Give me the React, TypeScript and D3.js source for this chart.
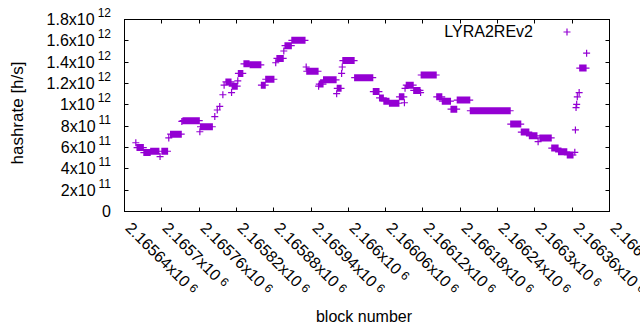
import * as d3 from "d3";

// runs of blocks that share one hashrate value (values in 10^12 h/s)
const runStart = [
  2165659, 2165661, 2165672, 2165683, 2165698, 2165701, 2165712, 2165715, 2165733, 2165735,
  2165762, 2165763, 2165786, 2165790, 2165794, 2165799, 2165801, 2165804, 2165813, 2165814,
  2165823, 2165824, 2165833, 2165843, 2165861, 2165868, 2165884, 2165886, 2165897, 2165899,
  2165910, 2165933, 2165934, 2165953, 2165954, 2165961, 2165982, 2165983, 2165990, 2165991,
  2165992, 2166011, 2166041, 2166051, 2166058, 2166067, 2166083, 2166091, 2166092, 2166094,
  2166106, 2166117, 2166118, 2166143, 2166152, 2166166, 2166176, 2166197, 2166262, 2166279,
  2166292, 2166306, 2166309, 2166328, 2166339, 2166353, 2166365, 2166366, 2166367, 2166368,
  2166369, 2166372, 2166373, 2166384,
];
const runEnd = [
  2165659, 2165671, 2165682, 2165696, 2165698, 2165710, 2165712, 2165732, 2165733, 2165761,
  2165762, 2165782, 2165786, 2165790, 2165794, 2165799, 2165801, 2165812, 2165813, 2165822,
  2165823, 2165831, 2165841, 2165860, 2165867, 2165881, 2165884, 2165896, 2165897, 2165909,
  2165931, 2165933, 2165952, 2165953, 2165960, 2165981, 2165982, 2165989, 2165990, 2165991,
  2166010, 2166040, 2166050, 2166057, 2166066, 2166082, 2166090, 2166091, 2166092, 2166105,
  2166116, 2166117, 2166142, 2166151, 2166165, 2166175, 2166196, 2166261, 2166278, 2166291,
  2166304, 2166306, 2166327, 2166338, 2166352, 2166362, 2166365, 2166366, 2166367, 2166368,
  2166369, 2166372, 2166383, 2166384,
];
const runHashrate = [
  0.64, 0.595, 0.548, 0.56, 0.51, 0.56, 0.685, 0.72, 0.84, 0.847,
  0.743, 0.79, 0.885, 0.947, 0.98, 1.09, 1.18, 1.21, 1.11, 1.17,
  1.22, 1.29, 1.38, 1.37, 1.18, 1.235, 1.39, 1.43, 1.5, 1.55,
  1.6, 1.35, 1.31, 1.17, 1.19, 1.23, 1.1, 1.15, 1.29, 1.35,
  1.41, 1.25, 1.12, 1.06, 1.03, 1.01, 1.07, 1.015, 1.15, 1.18,
  1.13, 1.11, 1.275, 1.07, 1.03, 0.955, 1.04, 0.94, 0.815, 0.74,
  0.705, 0.65, 0.685, 0.59, 0.555, 0.525, 0.55, 0.76, 0.97, 1.0,
  1.07, 1.11, 1.34, 1.48,
];

const yTicks = [0, 0.2e12, 0.4e12, 0.6e12, 0.8e12, 1e12, 1.2e12, 1.4e12, 1.6e12, 1.8e12];
const xTicks = [
  2165640, 2165700, 2165760, 2165820, 2165880, 2165940, 2166000,
  2166060, 2166120, 2166180, 2166240, 2166300, 2166360, 2166420,
];
const seriesName = "LYRA2REv2";

const W = 640;
const H = 330;
const margin = { top: 19, right: 31, bottom: 119, left: 124 };
const FONT = "'Liberation Sans', Arial, sans-serif";
const COLOR = "#9400d3";

// gnuplot style "m x10^e" split
const sci = (v: number): [string, string] => {
  if (v === 0) return ["0", ""];
  const e = Math.floor(Math.log10(v) + 1e-9);
  const m = +(v / Math.pow(10, e)).toFixed(6);
  return [`${m}x10`, `${e}`];
};

const plus = (x: number, y: number, r = 3.5) =>
  `M${x - r},${y}h${2 * r}M${x},${y - r}v${2 * r}`;

const App = () => {
  const x = d3.scaleLinear().domain([2165640, 2166420]).range([margin.left, W - margin.right]);
  const y = d3.scaleLinear().domain([0, 1.8e12]).range([H - margin.bottom, margin.top]);

  const points: { b: number; v: number }[] = [];
  runStart.forEach((s, i) => {
    for (let b = s; b <= runEnd[i]; b++) points.push({ b, v: runHashrate[i] * 1e12 });
  });

  const x0 = margin.left + 0.5;
  const x1 = W - margin.right + 0.5;
  const y0 = H - margin.bottom + 0.5;
  const y1 = margin.top + 0.5;
  const tl = 4;

  return (
    <svg
      width={W}
      height={H}
      style={{ position: "absolute", left: 0, top: 0, background: "#fff" }}
      fontFamily={FONT}
    >
      <rect width={W} height={H} fill="#fff" />
      {/* y ticks */}
      {yTicks.map((t) => {
        const ty = Math.round(y(t)) + 0.5;
        const [m, e] = sci(t);
        return (
          <g key={`y${t}`}>
            <path d={`M${x0},${ty}h${tl}M${x1},${ty}h${-tl}`} stroke="#000" />
            <text x={111} y={ty + 5.5} fontSize={16} textAnchor="end" fill="#000">
              {m}
              {e && (
                <tspan dx={3} dy={-8} fontSize={12}>
                  {e}
                </tspan>
              )}
            </text>
          </g>
        );
      })}
      {/* x ticks */}
      {xTicks.map((t) => {
        const tx = Math.round(x(t)) + 0.5;
        const [m, e] = sci(t);
        return (
          <g key={`x${t}`}>
            <path d={`M${tx},${y0}v${-tl}M${tx},${y1}v${tl}`} stroke="#000" />
            <text
              transform={`translate(${tx},${229}) rotate(45)`}
              fontSize={16}
              fill="#000"
            >
              {m}
              <tspan dx={4} dy={-3} fontSize={12}>
                {e}
              </tspan>
            </text>
          </g>
        );
      })}
      <rect
        x={x0}
        y={y1}
        width={x1 - x0}
        height={y0 - y1}
        fill="none"
        stroke="#000"
      />
      {/* data */}
      <path
        d={points.map((p) => plus(x(p.b), y(p.v))).join("")}
        stroke={COLOR}
        strokeWidth={1.2}
        fill="none"
      />
      {/* legend */}
      <text x={533} y={37} fontSize={16} textAnchor="end" fill="#000">
        {seriesName}
      </text>
      <path d={plus(567, 32)} stroke={COLOR} strokeWidth={1.2} />
      {/* axis titles */}
      <text
        transform={`translate(23,${(margin.top + H - margin.bottom) / 2 - 2}) rotate(-90)`}
        textAnchor="middle"
        fontSize={17}
        fill="#000"
      >
        hashrate [h/s]
      </text>
      <text x={364} y={322} textAnchor="middle" fontSize={16} fill="#000">
        block number
      </text>
    </svg>
  );
};

export default App;
